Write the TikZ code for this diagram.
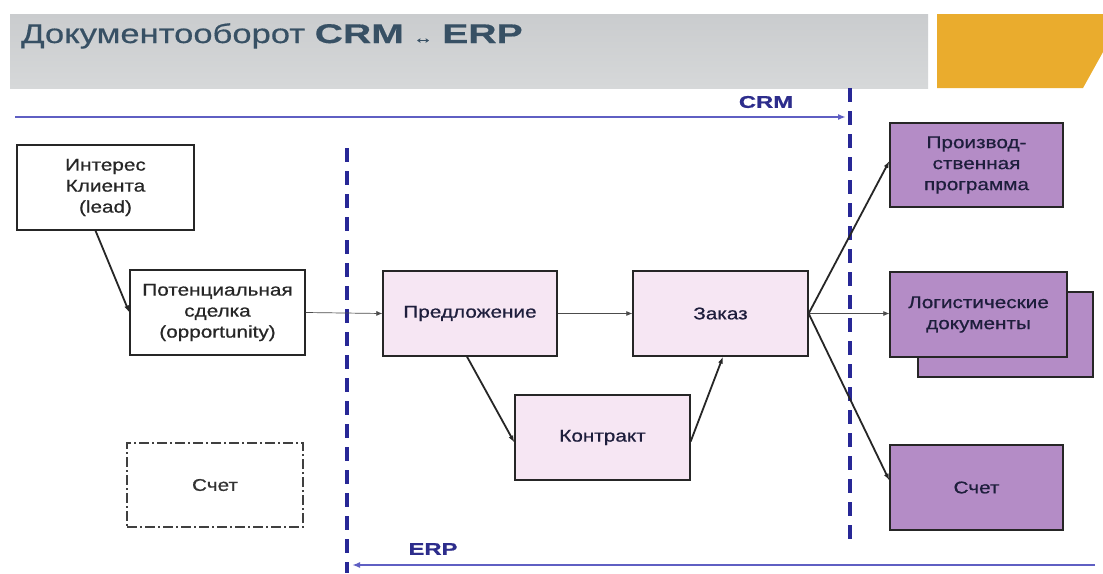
\documentclass[tikz,border=0pt]{standalone}
\usepackage{fontspec}
\setmainfont{Liberation Sans}
\newfontfamily\boxfont[FakeStretch=1.22,FakeBold=0.7]{Liberation Sans}
\newfontfamily\titlefont[FakeStretch=1.28,FakeBold=0.5,BoldFeatures={FakeStretch=1.45}]{Liberation Sans}
\newfontfamily\lblfont[FakeStretch=1.4,FakeBold=0.8]{Liberation Sans}
\usetikzlibrary{arrows.meta}
\definecolor{hdrgray}{RGB}{202,204,206}
\definecolor{hdrgraylight}{RGB}{214,216,217}
\definecolor{hdrorange}{RGB}{234,172,45}
\definecolor{titlecol}{RGB}{55,80,100}
\definecolor{flowline}{RGB}{95,95,195}
\definecolor{lblblue}{RGB}{45,45,140}
\definecolor{dashblue}{RGB}{40,40,150}
\definecolor{pinkfill}{RGB}{246,230,243}
\definecolor{purplefill}{RGB}{180,140,198}
\definecolor{boxtext}{RGB}{30,30,60}
\begin{document}
\begin{tikzpicture}[x=1pt,y=-1pt,
  box/.style={draw=black!85,line width=1.3pt,align=center,inner sep=0pt,
    minimum width=175pt,minimum height=85pt,
    font=\boxfont\fontsize{17}{21}\selectfont,text=boxtext},
  whitebox/.style={box,fill=white,text=black!85},
  pinkbox/.style={box,fill=pinkfill},
  purplebox/.style={box,fill=purplefill},
  dashdotbox/.style={box,draw=black!75,line width=1.3pt,
    dash pattern=on 10pt off 3pt on 2pt off 3pt,text=black!80},
  thinarrow/.style={-{Latex[length=6pt,width=5pt]},line width=0.7pt,draw=black!70},
  thickarrow/.style={-{Latex[length=7pt,width=5pt]},line width=1.8pt,draw=black!85},
  sysline/.style={line width=1.6pt,draw=flowline,-{Latex[length=8pt,width=6pt]}},
  divider/.style={line width=3.6pt,draw=dashblue,dash pattern=on 14pt off 9pt},
  syslabel/.style={font=\lblfont\bfseries\fontsize{17}{20}\selectfont,text=lblblue}
]
\useasboundingbox (0,0) rectangle (1103,573);
\fill[white] (0,0) rectangle (1103,573);
% header
\shade[top color=hdrgray,bottom color=hdrgraylight] (10,14) rectangle (928,88);
\fill[hdrorange] (937,14) -- (1103,14) -- (1103,52) -- (1083,88) -- (937,88) -- cycle;
\node[anchor=base west,inner sep=0pt,text=titlecol,
  font=\titlefont\fontsize{27}{30}\selectfont] (title) at (21,43)
  {Документооборот \textbf{CRM} {\fontsize{15}{16}\selectfont ↔} \textbf{ERP}};
% dividers
\coordinate (d1top) at (347,148);
\coordinate (d1bot) at (347,573);
\coordinate (d2top) at (850,88);
\coordinate (d2bot) at (850,540);
\draw[divider] (d1top) -- (d1bot);
\draw[divider] (d2top) -- (d2bot);
% system arrows
\coordinate (crmA) at (15,117);
\coordinate (crmB) at (846,117);
\draw[sysline] (crmA) -- (crmB);
\node[syslabel] (crmlbl) at (766,102) {CRM};
\coordinate (erpA) at (1095,565);
\coordinate (erpB) at (352,565);
\draw[sysline] (erpA) -- (erpB);
\node[syslabel] (erplbl) at (433,549) {ERP};
% boxes
\node[whitebox,minimum width=177pt] (lead) at (105.5,187.5) {Интерес\\Клиента\\(lead)};
\node[whitebox] (opp) at (217.5,312.5) {Потенциальная\\сделка\\(opportunity)};
\node[pinkbox,minimum width=174pt] (pred) at (470,313.5) {Предложение};
\node[pinkbox] (zak) at (720.5,313.5) {Заказ};
\node[pinkbox] (kon) at (602.5,437.5) {Контракт};
\node[purplebox,minimum width=173pt,minimum height=84pt] (prod) at (976.5,165) {Производ-\\ственная\\программа};
\node[purplebox] (logback) at (1005.5,334.5) {};
\node[purplebox,minimum width=177pt] (log) at (978.5,314.5) {Логистические\\документы};
\node[purplebox,minimum width=173pt] (schetR) at (976.5,487.5) {Счет};
\node[dashdotbox,minimum width=176pt,minimum height=84pt] (schetL) at (215,485) {Счет};
% connectors
\draw[thickarrow] ([xshift=-10pt]lead.south) -- (opp.west);
\draw[thinarrow] (opp.east) -- (pred.west);
\draw[thickarrow] ([xshift=-3pt]pred.south) -- ([yshift=-5pt]kon.west);
\draw[thickarrow] ([yshift=-4pt]kon.east) -- ([xshift=2.5pt]zak.south);
\draw[thinarrow] (pred.east) -- (zak.west);
\draw[thickarrow] (zak.east) -- ([yshift=4pt]prod.west);
\draw[thinarrow] (zak.east) -- (zak.east -| log.west);
\draw[thickarrow] (zak.east) -- ([yshift=7pt]schetR.west);
\end{tikzpicture}
\end{document}
